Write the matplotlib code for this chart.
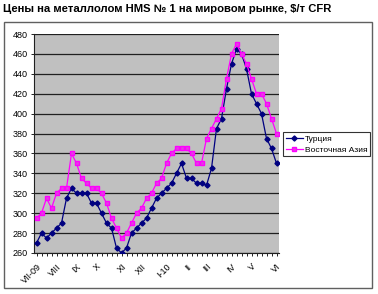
import matplotlib
matplotlib.use("Agg")
import matplotlib.pyplot as plt
from matplotlib.patches import Rectangle

plt.rcParams['font.family'] = ['Liberation Sans', 'DejaVu Sans']

# недельные цены, $/т
turkey = [270, 280, 275, 280, 285, 290, 315, 325, 320, 320, 320, 310, 310, 300, 290, 285, 265,
          260, 265, 280, 285, 290, 295, 305, 315, 320, 325, 330, 340, 350, 335, 335, 330, 330,
          328, 345, 385, 395, 425, 450, 465, 460, 445, 420, 410, 400, 375, 365, 350]
asia = [295, 300, 315, 305, 320, 325, 325, 360, 350, 335, 330, 325, 325, 320, 310, 295, 285,
        275, 280, 290, 300, 305, 315, 320, 330, 335, 350, 360, 365, 365, 365, 360, 350, 350,
        375, 385, 395, 405, 435, 460, 470, 460, 450, 435, 420, 420, 410, 395, 380]
month_labels = ['VII-09', 'VIII', 'IX', 'X', 'XI', 'XII', 'I-10', 'II', 'III', 'IV', 'V', 'VI']
month_pos = [0, 4, 8, 12, 17, 21, 26, 30, 34, 39, 43, 48]
yticks = list(range(260, 481, 20))

fig = plt.figure(figsize=(3.78, 2.94), dpi=100)
fig.patch.set_facecolor('white')

# рамка диаграммы
fig.patches.append(Rectangle((4 / 378, 1 - 288 / 294), 368 / 378, 266 / 294,
                             transform=fig.transFigure, fill=False,
                             edgecolor='#606060', linewidth=1.0))

fig.text(3 / 378, 1 - 9 / 294, 'Цены на металлолом HMS № 1 на мировом рынке, $/т CFR',
         fontsize=8.1, fontweight='bold', va='center', ha='left')

ax = fig.add_axes([34 / 378, 1 - 253 / 294, 245 / 378, 219 / 294])
ax.set_facecolor('#c0c0c0')

x = list(range(len(turkey)))
ax.plot(x, turkey, color='#000080', linewidth=0.9, marker='D', markersize=2.6,
        label='Турция', zorder=3)
ax.plot(x, asia, color='#ff00ff', linewidth=0.9, marker='s', markersize=3.2,
        markerfacecolor='#e040e0', markeredgecolor='#ff00ff', label='Восточная Азия', zorder=3)

ax.set_xlim(-0.5, len(turkey) - 0.5)
ax.set_ylim(260, 480)
ax.set_yticks(yticks)
ax.set_yticklabels([str(v) for v in yticks], fontsize=6.5)
ax.yaxis.grid(True, color='#202020', linewidth=0.9)
ax.set_axisbelow(True)

ax.set_xticks(month_pos)
ax.set_xticks(x, minor=True)
ax.set_xticklabels(month_labels, fontsize=6.5, rotation=45, ha='right',
                   rotation_mode='anchor')
ax.tick_params(axis='x', which='both', direction='out', length=2.5, width=0.6, pad=4)
ax.tick_params(axis='y', direction='out', length=2.5, width=0.6, pad=2)

for side in ['top', 'right']:
    ax.spines[side].set_visible(False)
ax.spines['left'].set_color('#202020')
ax.spines['bottom'].set_color('#202020')
ax.spines['left'].set_linewidth(0.8)
ax.spines['bottom'].set_linewidth(0.8)

leg = ax.legend(loc='upper left', bbox_to_anchor=(283 / 378, 1 - 132 / 294),
                bbox_transform=fig.transFigure, fontsize=6, frameon=True,
                fancybox=False, edgecolor='black', handlelength=2.0,
                borderpad=0.35, labelspacing=0.35, handletextpad=0.25, borderaxespad=0)
leg.get_frame().set_linewidth(0.8)

fig.savefig('out.png', dpi=100)
